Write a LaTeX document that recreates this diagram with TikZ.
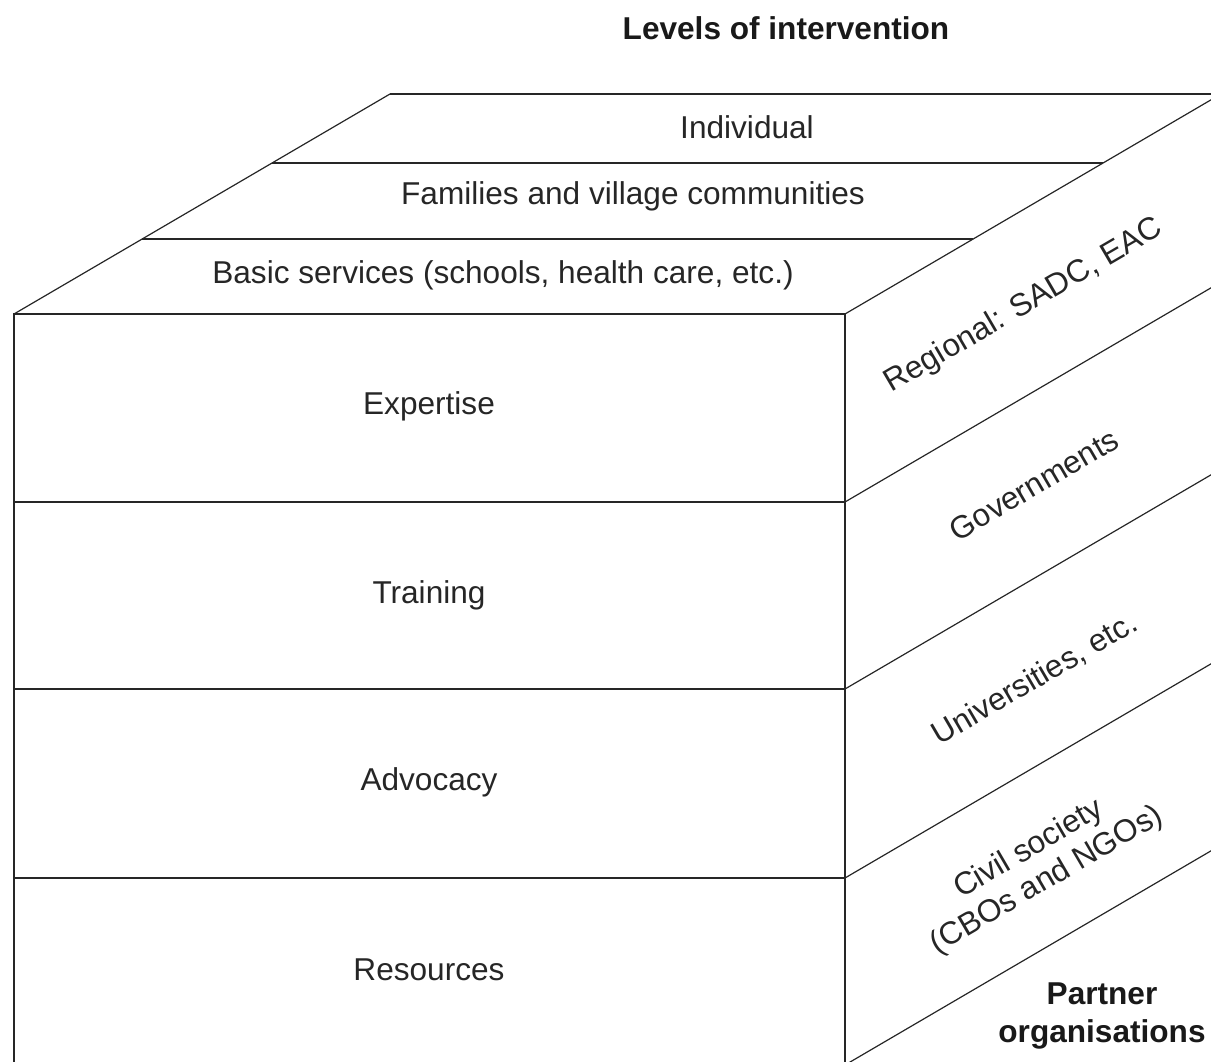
\documentclass[tikz,border=0pt]{standalone}
\usepackage{fontspec}
\setmainfont{Liberation Sans}
\usetikzlibrary{calc}

\begin{document}
\begin{tikzpicture}[x=0.5pt, y=0.5pt,
        frontline/.style={line width=1pt, draw=black!85},
        sideline/.style={line width=0.6pt, draw=black!85},
        level_text/.style={font=\fontsize{15.8}{19}\selectfont, text=black!85},
        side_text/.style={font=\fontsize{15.8}{18}\selectfont, text=black!85, rotate=30.3, align=center},
        title_text/.style={font=\fontsize{15.8}{19}\selectfont\bfseries, text=black!90, align=center}
    ]
    \useasboundingbox (0,0) rectangle (1211,1061);
    \clip (0,0) rectangle (1211,1061);

    % Corners of the block
    \coordinate (ftl) at (14,747);
    \coordinate (ftr) at (845,747);
    \coordinate (fbl) at (14,-4);
    \coordinate (fbr) at (845,-4);
    \coordinate (btl) at ($(ftl)+(376,220)$);
    \coordinate (btr) at ($(ftr)+(376,220)$);
    \coordinate (bbr) at ($(fbr)+(376,220)$);

    % Outline
    \draw[frontline] (fbl) -- (ftl) -- (ftr) -- (fbr);
    \draw[sideline] (ftl) -- (btl);
    \draw[frontline] (btl) -- (btr);
    \draw[sideline] (ftr) -- (btr);
    \draw[sideline] (fbr) -- (bbr);

    % Rows of the front and right faces
    \foreach \y in {559,372,183}{
        \draw[frontline] (14,\y) -- (845,\y);
        \draw[sideline] (845,\y) -- ++(376,220);
    }

    % Layers of the top face
    \foreach \f in {0.34,0.686}{
        \draw[frontline] ($(ftl)!\f!(btl)$) -- ($(ftr)!\f!(btr)$);
    }

    % Title
    \node[title_text] (title) at (786,1033) {Levels of intervention};

    % Top face
    \node[level_text] (individual) at (747,934) {Individual};
    \node[level_text] (families) at (633,865) {Families and village communities};
    \node[level_text] (basic) at (503,786) {Basic services (schools, health care, etc.)};

    % Front face
    \node[level_text] (expertise) at (429,655) {Expertise};
    \node[level_text] (training) at (429,466) {Training};
    \node[level_text] (advocacy) at (429,279) {Advocacy};
    \node[level_text] (resources) at (429,91) {Resources};

    % Right face
    \node[side_text] (regional) at (1024,755) {Regional: SADC, EAC};
    \node[side_text] (governments) at (1034,576) {Governments};
    \node[side_text] (universities) at (1035,382) {Universities, etc.};
    \node[side_text] (civil) at (1038,196) {Civil society\\(CBOs and NGOs)};
    \node[title_text] (partner) at (1102,45) {Partner\\organisations};
\end{tikzpicture}
\end{document}
